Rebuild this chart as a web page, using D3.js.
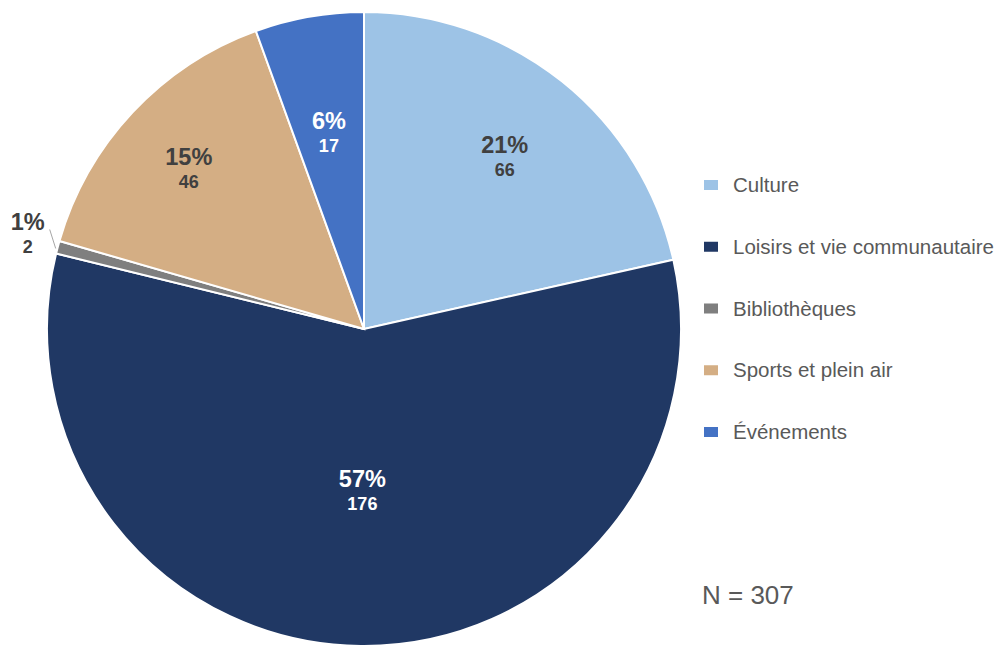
<!DOCTYPE html>
<html>
<meta charset="utf-8" />
<script src="https://cdn.jsdelivr.net/npm/d3@7"></script>
<style>
  html, body { margin: 0; padding: 0; background: #fff; }
  svg { font-family: Arial, 'Liberation Sans', Helvetica, sans-serif; }
  .legend text { font-size: 20.5px; fill: #595959; }
  .pct { font-size: 23.5px; font-weight: bold; }
  .cnt { font-size: 18px; font-weight: bold; }
</style>
<body>
<div id="chart"></div>
<script>
  var categories = ['Culture', 'Loisirs et vie communautaire', 'Bibliothèques', 'Sports et plein air', 'Événements'];
  var counts = [66, 176, 2, 46, 17];
  var colors = ['#9DC3E6', '#203864', '#7F7F7F', '#D4AE84', '#4472C4'];
  var labelColors = ['#404040', '#ffffff', '#404040', '#404040', '#ffffff'];
  var total = 307;

  var width = 1000, height = 646;
  var cx = 364, cy = 329, radius = 317;

  var svg = d3.select('#chart').append('svg')
    .attr('width', width)
    .attr('height', height);

  var data = categories.map(function (c, i) {
    return { name: c, value: counts[i], color: colors[i], label: labelColors[i] };
  });

  var pie = d3.pie().sort(null).value(function (d) { return d.value; });
  var arcs = pie(data);
  var arc = d3.arc().innerRadius(0).outerRadius(radius);

  var g = svg.append('g').attr('transform', 'translate(' + cx + ',' + cy + ')');

  g.selectAll('path.slice')
    .data(arcs)
    .enter()
    .append('path')
    .attr('class', 'slice')
    .attr('d', arc)
    .attr('fill', function (d) { return d.data.color; })
    .attr('stroke', '#fff')
    .attr('stroke-width', 2);

  function share(d) { return d.data.value / total; }

  // label radius (Excel "best fit" look): big slice closer in, tiny one outside
  function labelRadius(d) {
    var s = share(d);
    if (s > 0.5) return radius * 0.5;
    if (s < 0.1) return radius * 0.64;
    if (s > 0.18) return radius * 0.71;
    return radius * 0.757;
  }

  function labelPos(d) {
    var a = (d.startAngle + d.endAngle) / 2;
    if (share(d) < 0.02) {
      // outside label with leader line
      var ex = Math.sin(a) * radius, ey = -Math.cos(a) * radius;
      return [ex - 30, ey - 17];
    }
    var r = labelRadius(d);
    return [Math.sin(a) * r, -Math.cos(a) * r];
  }

  var labels = g.selectAll('g.lbl')
    .data(arcs)
    .enter()
    .append('g')
    .attr('class', 'lbl')
    .attr('transform', function (d) { return 'translate(' + labelPos(d) + ')'; });

  labels.append('text')
    .attr('class', 'pct')
    .attr('text-anchor', 'middle')
    .attr('y', 0)
    .attr('fill', function (d) { return share(d) < 0.02 ? '#404040' : d.data.label; })
    .text(function (d) { return Math.round(share(d) * 100) + '%'; });

  labels.append('text')
    .attr('class', 'cnt')
    .attr('text-anchor', 'middle')
    .attr('y', 23)
    .attr('fill', function (d) { return share(d) < 0.02 ? '#404040' : d.data.label; })
    .text(function (d) { return d.data.value; });

  // leader line for the tiny slice
  arcs.filter(function (d) { return share(d) < 0.02; }).forEach(function (d) {
    var a = (d.startAngle + d.endAngle) / 2;
    var x1 = Math.sin(a) * (radius - 1), y1 = -Math.cos(a) * (radius - 1);
    g.append('line')
      .attr('x1', x1 - 3).attr('y1', y1 + 1)
      .attr('x2', x1 - 9).attr('y2', y1 - 18)
      .attr('stroke', '#A6A6A6')
      .attr('stroke-width', 1);
  });

  var legendY = d3.scalePoint().domain(categories).range([185, 432]);

  var legend = svg.append('g').attr('class', 'legend')
    .selectAll('g')
    .data(data)
    .enter()
    .append('g')
    .attr('transform', function (d) { return 'translate(704,' + legendY(d.name) + ')'; });

  legend.append('rect')
    .attr('x', 0).attr('y', -5)
    .attr('width', 14).attr('height', 10)
    .attr('fill', function (d) { return d.color; });

  legend.append('text')
    .attr('x', 29)
    .attr('dy', '0.35em')
    .text(function (d) { return d.name; });

  svg.append('text')
    .attr('x', 702)
    .attr('y', 604)
    .attr('font-size', 26)
    .attr('fill', '#595959')
    .text('N = ' + total);
</script>
</body>
</html>
